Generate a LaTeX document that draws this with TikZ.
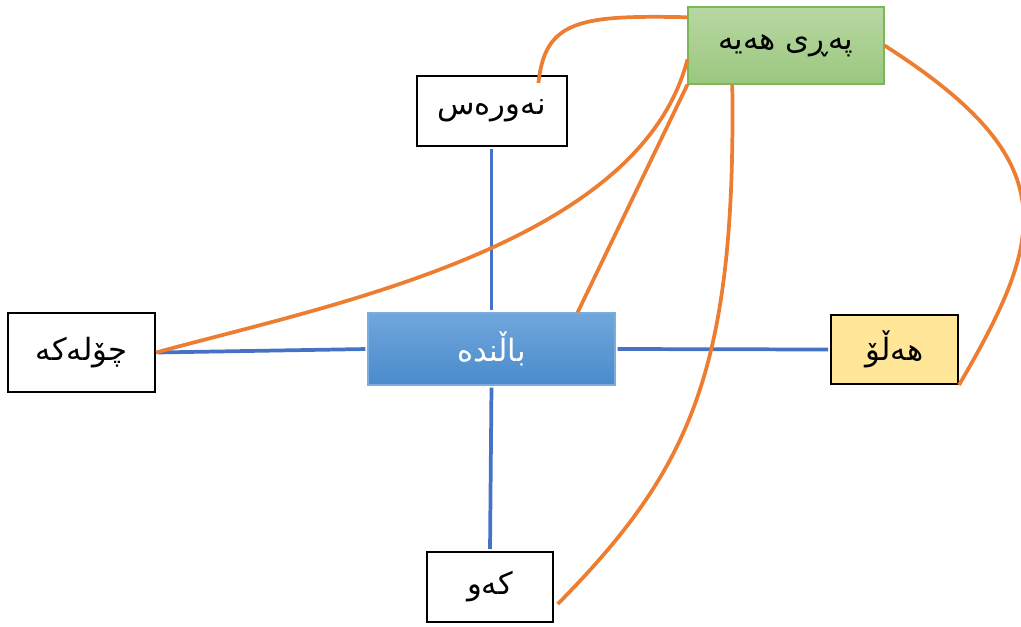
\documentclass[tikz,border=0pt]{standalone}
\usepackage{fontspec}
\newfontfamily\arabicfont[Script=Arabic]{DejaVu Sans}
\TeXXeTstate=1
\usetikzlibrary{positioning}
\definecolor{lineblue}{HTML}{4472C4}
\definecolor{lineorange}{HTML}{ED7D31}
\definecolor{greentop}{HTML}{B8D7A3}
\definecolor{greenbot}{HTML}{9BC77E}
\definecolor{greenedge}{HTML}{7DB55A}
\definecolor{bluetop}{HTML}{70A6DC}
\definecolor{bluebot}{HTML}{4A8BCB}
\definecolor{blueedge}{HTML}{7AAEE0}
\definecolor{yellowfill}{HTML}{FFE699}

\begin{document}
\begin{tikzpicture}[x=0.75pt,y=-0.75pt,
    box/.style={draw=black,line width=1.5pt,fill=white,inner sep=0pt,
                font=\fontsize{23}{27}\selectfont\arabicfont},
    blueline/.style={lineblue,line width=2.8pt,shorten <=1.5pt,shorten >=1.5pt},
    orangeline/.style={lineorange,line width=2.8pt}]
\useasboundingbox (0,0) rectangle (1021,626);

% Boxes
\node[box,minimum width=147pt,minimum height=57.75pt,draw=greenedge,line width=0.8pt,
      top color=greentop,bottom color=greenbot] (feathers) at (786,45.5) {\beginR پەڕی هەیە\endR};
\node[box,minimum width=112.5pt,minimum height=52.5pt] (nawras) at (491.5,111) {\beginR نەورەس\endR};
\node[box,minimum width=185.25pt,minimum height=54pt,draw=blueedge,line width=0.8pt,
      top color=bluetop,bottom color=bluebot,text=white] (bird) at (491.5,349) {\beginR باڵندە\endR};
\node[box,minimum width=110.25pt,minimum height=59.25pt] (sparrow) at (81.5,352.5) {\beginR چۆلەکە\endR};
\node[box,minimum width=95.25pt,minimum height=51.75pt,fill=yellowfill] (eagle) at (894.5,349.5) {\beginR هەڵۆ\endR};
\node[box,minimum width=94.5pt,minimum height=52.5pt] (partridge) at (490,587) {\beginR کەو\endR};

% Blue links
\draw[blueline] (nawras.south) -- (bird.north);
\draw[blueline] (bird.south) -- (partridge.north);
\draw[blueline] (sparrow.east) -- (bird.west);
\draw[blueline] (bird.east) -- (eagle.west);

% Orange links
\draw[orangeline,shorten <=-6pt] (nawras.37) .. controls (545,20) and (580,15) .. (feathers.164);
\draw[orangeline] (feathers.188) .. controls (640,245) and (330,305) .. (sparrow.east);
\draw[orangeline] (feathers.south west) -- (bird.23);
\draw[orangeline,shorten >=4pt] (feathers.216) .. controls (736,370) and (690,470) .. (partridge.-18);
\draw[orangeline] (feathers.east) .. controls (1067,162) and (1045.5,236.5) .. (eagle.south east);
\end{tikzpicture}
\end{document}
